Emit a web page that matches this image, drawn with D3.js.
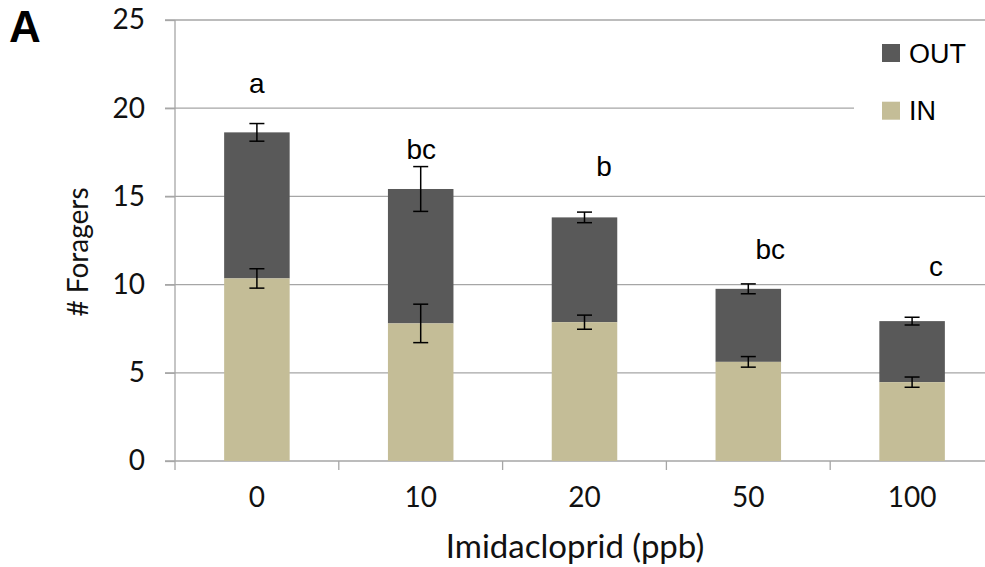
<!DOCTYPE html>
<html>
<head>
<meta charset="utf-8">
<script src="https://cdn.jsdelivr.net/npm/d3@7"></script>
<style>
  html, body { margin: 0; padding: 0; background: #fff; }
  svg { display: block; }
</style>
</head>
<body>
<svg id="chart" width="985" height="567"></svg>
<script>
// ---- data ----
const categories = ["0", "10", "20", "50", "100"];
const inValues = [10.35, 7.80, 7.87, 5.62, 4.47];     // IN (bottom segment)
const totalValues = [18.63, 15.42, 13.81, 9.76, 7.93]; // IN + OUT (top of stack)
const inErrors = [0.55, 1.09, 0.40, 0.30, 0.29];
const totalErrors = [0.50, 1.27, 0.30, 0.28, 0.22];
const groupLetters = ["a", "bc", "b", "bc", "c"];
const letterLevels = [20.88, 17.10, 16.18, 11.43, 10.50];
const yTicks = [0, 5, 10, 15, 20, 25];
const seriesNames = ["OUT", "IN"];
const colors = { OUT: "#595959", IN: "#C4BD97" };

(function () {
// ---- layout ----
const svg = d3.select("#chart");
const pL = 175, pR = 994, pT = 20, pB = 461;
const gridColor = "#A6A6A6";
const tickFont = "Lato, 'Open Sans', sans-serif";
const arial = "'Liberation Sans', Arial, sans-serif";

const y = d3.scaleLinear().domain([0, 25]).range([pB, pT]);
const xCat = d3.scaleBand().domain(categories).range([pL, pR]).padding(0);
const barW = xCat.bandwidth() * 0.4;
const barX = d => xCat(d) + (xCat.bandwidth() - barW) / 2;
const cx = d => xCat(d) + xCat.bandwidth() / 2;

// gridlines
svg.append("g").selectAll("line").data(yTicks.filter(t => t > 0)).join("line")
  .attr("x1", pL - 10).attr("x2", pR)
  .attr("y1", d => y(d)).attr("y2", d => y(d))
  .attr("stroke", gridColor).attr("stroke-width", 1.3);

// legend background (interrupts gridline)
svg.append("rect").attr("x", 854).attr("y", 32).attr("width", 140).attr("height", 100).attr("fill", "#fff");

// y axis
const yAxis = d3.axisLeft(y).tickValues(yTicks).tickSize(10).tickPadding(20);
const gy = svg.append("g").attr("transform", `translate(${pL},0)`).call(yAxis);
gy.select(".domain").remove();
gy.selectAll(".tick line").attr("stroke", gridColor).attr("stroke-width", 1.3);
gy.selectAll(".tick text").attr("font-family", tickFont).attr("font-size", 28).attr("fill", "#111");
svg.append("line").attr("x1", pL).attr("x2", pL).attr("y1", pT).attr("y2", pB + 9)
  .attr("stroke", gridColor).attr("stroke-width", 1.3);

// x axis
svg.append("line").attr("x1", pL - 10).attr("x2", pR).attr("y1", pB).attr("y2", pB)
  .attr("stroke", gridColor).attr("stroke-width", 1.3);
svg.append("g").selectAll("line").data(categories.slice(1)).join("line")
  .attr("x1", d => xCat(d)).attr("x2", d => xCat(d))
  .attr("y1", pB).attr("y2", pB + 9)
  .attr("stroke", gridColor).attr("stroke-width", 1.3);
const xAxis = d3.axisBottom(xCat).tickSize(0).tickPadding(26);
const gx = svg.append("g").attr("transform", `translate(0,${pB})`).call(xAxis);
gx.select(".domain").remove();
gx.selectAll(".tick text").attr("font-family", tickFont).attr("font-size", 28).attr("fill", "#111");

// bars
const rows = categories.map((c, i) => ({ c, inV: inValues[i], tot: totalValues[i], inE: inErrors[i], totE: totalErrors[i] }));
svg.append("g").selectAll("rect").data(rows).join("rect")
  .attr("x", d => barX(d.c)).attr("width", barW)
  .attr("y", d => y(d.tot)).attr("height", d => y(d.inV) - y(d.tot))
  .attr("fill", colors.OUT);
svg.append("g").selectAll("rect").data(rows).join("rect")
  .attr("x", d => barX(d.c)).attr("width", barW)
  .attr("y", d => y(d.inV)).attr("height", d => y(0) - y(d.inV))
  .attr("fill", colors.IN);

// error bars
const errs = [];
rows.forEach(d => { errs.push({ c: d.c, v: d.tot, e: d.totE }); errs.push({ c: d.c, v: d.inV, e: d.inE }); });
const eg = svg.append("g").attr("stroke", "#000").attr("stroke-width", 1.5);
errs.forEach(d => {
  const x0 = cx(d.c);
  eg.append("line").attr("x1", x0).attr("x2", x0).attr("y1", y(d.v + d.e)).attr("y2", y(d.v - d.e));
  eg.append("line").attr("x1", x0 - 7.5).attr("x2", x0 + 7.5).attr("y1", y(d.v + d.e)).attr("y2", y(d.v + d.e));
  eg.append("line").attr("x1", x0 - 7.5).attr("x2", x0 + 7.5).attr("y1", y(d.v - d.e)).attr("y2", y(d.v - d.e));
});

// significance letters
const letterShift = [0, 0.5, 19.5, 22, 24];
svg.append("g").selectAll("text").data(groupLetters).join("text")
  .attr("x", (d, i) => cx(categories[i]) + letterShift[i])
  .attr("y", (d, i) => y(letterLevels[i]))
  .attr("text-anchor", "middle")
  .attr("font-family", arial).attr("font-size", 28).attr("fill", "#000")
  .text(d => d);

// legend
const lg = svg.append("g");
seriesNames.forEach((s, i) => {
  const yy = 44 + i * 57.7;
  lg.append("rect").attr("x", 882).attr("y", yy).attr("width", 18).attr("height", 18).attr("fill", colors[s]);
  lg.append("text").attr("x", 909).attr("y", yy + 18.5).attr("font-family", arial).attr("font-size", 27)
    .attr("fill", "#000").text(s);
});

// axis titles
svg.append("text").attr("x", 575).attr("y", 558).attr("text-anchor", "middle")
  .attr("font-family", tickFont).attr("font-size", 33).attr("fill", "#111").text("Imidacloprid (ppb)");
svg.append("text").attr("transform", "translate(88,252) rotate(-90)").attr("text-anchor", "middle")
  .attr("font-family", tickFont).attr("font-size", 28).attr("fill", "#111").text("# Foragers");

// panel label
svg.append("text").attr("x", 9).attr("y", 42).attr("font-family", arial).attr("font-weight", "bold")
  .attr("font-size", 44).attr("fill", "#000").text("A");
})();
</script>
</body>
</html>
